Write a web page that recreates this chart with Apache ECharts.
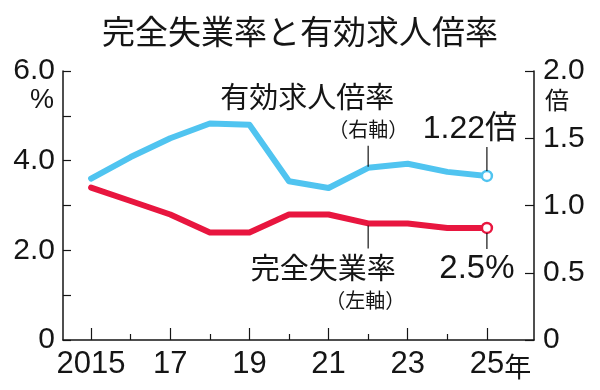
<!DOCTYPE html>
<html>
<head>
<meta charset="utf-8">
<script src="https://cdn.jsdelivr.net/npm/echarts@6/dist/echarts.min.js"></script>
<style>html,body{margin:0;padding:0;background:#fff;}#c{width:600px;height:390px;}</style>
</head>
<body>
<div id="c"></div>
<script>
// ---- data ----
const years = [2015, 2016, 2017, 2018, 2019, 2020, 2021, 2022, 2023, 2024, 2025];
const unemploymentRate = [3.4, 3.1, 2.8, 2.4, 2.4, 2.8, 2.8, 2.6, 2.6, 2.5, 2.5];   // %, left axis
const jobsToApplicants = [1.20, 1.36, 1.50, 1.61, 1.60, 1.18, 1.13, 1.28, 1.31, 1.25, 1.22]; // 倍, right axis
const majorYears = [2015, 2017, 2019, 2021, 2023, 2025];
const minorYears = [2016, 2018, 2020, 2022, 2024];
const xTickLabels = ['2015', '17', '19', '21', '23', '25'];
const titleText = '完全失業率と有効求人倍率';
const jobsName = '有効求人倍率';
const jobsAxisNote = '（右軸）';
const unempName = '完全失業率';
const unempAxisNote = '（左軸）';
const jobsLastLabel = '1.22倍';
const unempLastLabel = '2.5%';

// ---- styles ----
const NUM = "'Liberation Sans','Noto Sans CJK JP',sans-serif";
const JP = "'Noto Sans CJK JP',sans-serif";
const INK = '#151515';
const BLUE = '#50c4f0';
const RED = '#e8163f';

const chart = echarts.init(document.getElementById('c'));

const lastIdx = years.length - 1;
function seriesData(vals, color) {
  return years.map((y, i) => {
    if (i === lastIdx) {
      return {
        value: [y, vals[i]],
        symbol: 'circle',
        symbolSize: 10,
        itemStyle: { color: '#fff', borderColor: color, borderWidth: 2.5 }
      };
    }
    return { value: [y, vals[i]], symbol: 'none' };
  });
}

const xMin = 2014.29, xMax = 2026.19;

chart.setOption({
  animation: false,
  title: {
    text: titleText,
    left: 'center',
    top: 10,
    textStyle: { fontFamily: JP, fontSize: 33, fontWeight: 'normal', color: INK }
  },
  grid: { left: 63, right: 66, top: 71, bottom: 50 },
  xAxis: [
    {
      type: 'value', min: xMin, max: xMax,
      splitLine: { show: false },
      axisLine: { show: true, onZero: false, lineStyle: { color: INK, width: 1.5 } },
      axisTick: { show: true, inside: true, length: 12, customValues: majorYears, lineStyle: { color: INK, width: 1.2 } },
      axisLabel: {
        show: true, customValues: majorYears, margin: 9,
        fontFamily: NUM, fontSize: 31, color: INK,
        formatter: v => {
          const i = majorYears.indexOf(Math.round(v));
          if (i < 0) return '';
          if (i === majorYears.length - 1) return '{p| }' + xTickLabels[i] + '{n|年}';
          return xTickLabels[i];
        },
        rich: {
          p: { width: 27, fontSize: 28 },
          n: { fontFamily: JP, fontSize: 27, color: INK, padding: [4, 0, 0, 0] }
        }
      }
    },
    {
      type: 'value', min: xMin, max: xMax, position: 'bottom',
      splitLine: { show: false },
      axisLine: { show: false },
      axisTick: { show: true, inside: true, length: 6, customValues: minorYears, lineStyle: { color: INK, width: 1.2 } },
      axisLabel: { show: false }
    }
  ],
  yAxis: [
    {
      type: 'value', min: 0, max: 6, interval: 1, position: 'left',
      splitLine: { show: false },
      axisLine: { show: true, lineStyle: { color: INK, width: 1.5 } },
      axisTick: { show: true, inside: true, length: 8, lineStyle: { color: INK, width: 1.2 } },
      axisLabel: {
        margin: 8, fontFamily: NUM, fontSize: 30, color: INK,
        formatter: v => (v % 2 !== 0 ? '' : (v === 0 ? '0' : v.toFixed(1)))
      }
    },
    {
      type: 'value', min: 0, max: 2, interval: 0.5, position: 'right',
      splitLine: { show: false },
      axisLine: { show: true, lineStyle: { color: INK, width: 1.5 } },
      axisTick: { show: true, inside: true, length: 9, lineStyle: { color: INK, width: 1.2 } },
      axisLabel: {
        margin: 9, fontFamily: NUM, fontSize: 30, color: INK,
        formatter: v => (v === 0 ? '0' : v.toFixed(1))
      }
    }
  ],
  series: [
    {
      name: jobsName, type: 'line', xAxisIndex: 0, yAxisIndex: 1,
      data: seriesData(jobsToApplicants, BLUE),
      showSymbol: true,
      lineStyle: { color: BLUE, width: 6, join: 'round', cap: 'round' },
      z: 3
    },
    {
      name: unempName, type: 'line', xAxisIndex: 0, yAxisIndex: 0,
      data: seriesData(unemploymentRate, RED),
      showSymbol: true,
      lineStyle: { color: RED, width: 6, join: 'round', cap: 'round' },
      z: 3
    }
  ]
});

// ---- annotations anchored on data points through the library's scales ----
function px(axisIdx, x, y) {
  return chart.convertToPixel({ xAxisIndex: 0, yAxisIndex: axisIdx }, [x, y]);
}
const idx22 = years.indexOf(2022);
const bl22 = px(1, years[idx22], jobsToApplicants[idx22]);
const bl25 = px(1, years[lastIdx], jobsToApplicants[lastIdx]);
const rd22 = px(0, years[idx22], unemploymentRate[idx22]);
const rd25 = px(0, years[lastIdx], unemploymentRate[lastIdx]);
const grid = { left: 63, right: 534, top: 71, bottom: 340 };

function txt(x, y, text, font, size, align) {
  return {
    type: 'text', x: x, y: y, z: 10,
    style: { text: text, fontFamily: font, fontSize: size, fill: INK, align: align || 'center', verticalAlign: 'middle' }
  };
}
function vline(x, y1, y2) {
  return { type: 'line', z: 9, shape: { x1: x, y1: y1, x2: x, y2: y2 }, style: { stroke: INK, lineWidth: 1.2 } };
}

chart.setOption({
  graphic: [
    txt(grid.left - 21, grid.top + 30, '%', NUM, 27),
    txt(grid.right + 23, grid.top + 29, '倍', JP, 24),
    // jobs ratio annotations
    txt(bl22[0] - 61, bl22[1] - 71, jobsName, JP, 29),
    txt(bl22[0], bl22[1] - 38, jobsAxisNote, JP, 20),
    vline(bl22[0], bl22[1] - 22, bl22[1] - 1),
    txt(bl25[0] - 17, bl25[1] - 47, jobsLastLabel, NUM, 32),
    vline(bl25[0], bl25[1] - 29, bl25[1] - 5),
    // unemployment annotations
    txt(rd22[0] - 45, rd22[1] + 45, unempName, JP, 29),
    txt(rd22[0] - 3, rd22[1] + 77, unempAxisNote, JP, 20),
    vline(rd22[0], rd22[1] + 2, rd22[1] + 25),
    txt(rd25[0] - 10, rd25[1] + 41, unempLastLabel, NUM, 33),
    vline(rd25[0], rd25[1] + 5, rd25[1] + 21)
  ]
});
</script>
</body>
</html>
